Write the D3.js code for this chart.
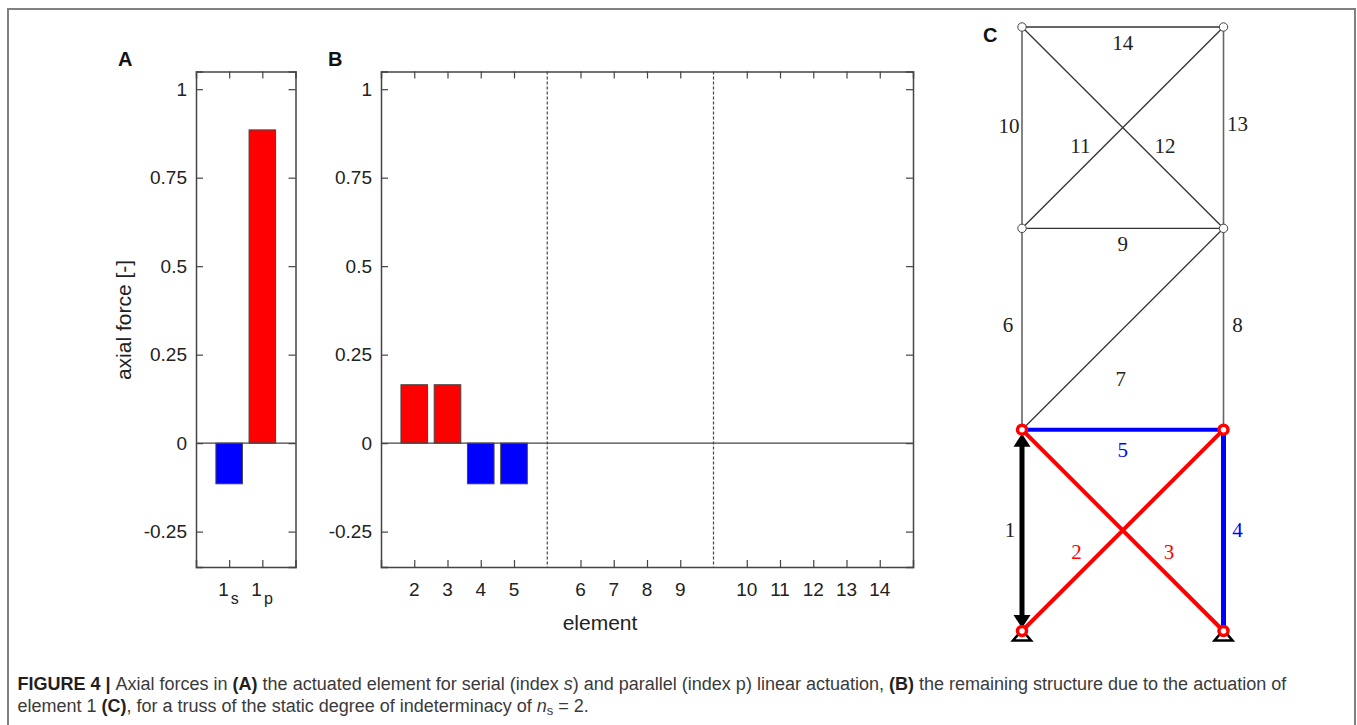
<!DOCTYPE html>
<html>
<head>
<meta charset="utf-8">
<style>
html, body { margin: 0; padding: 0; background: #fff; }
svg { display: block; }
text { font-family: "Liberation Sans", Arial, sans-serif; }
</style>
<script src="https://cdnjs.cloudflare.com/ajax/libs/d3/7.8.5/d3.min.js"></script>
</head>
<body>
<div id="chart-area"></div>
<script>
// values
var actuatedLabels = ['1s', '1p']
var actuatedValues = [-0.115, 0.885]
var actuatedSlots = [1, 2]
var elementLabels = [2, 3, 4, 5, 6, 7, 8, 9, 10, 11, 12, 13, 14]
var elementValues = [0.165, 0.165, -0.115, -0.115, 0, 0, 0, 0, 0, 0, 0, 0, 0]
var elementSlots = [1, 2, 3, 4, 6, 7, 8, 9, 11, 12, 13, 14, 15]
var separatorSlots = [5, 10]
var yTicks = [-0.25, 0, 0.25, 0.5, 0.75, 1]

// truss: [element, from column, from storey, to column, to storey]
var trussThin = [
	[7, 0, 1, 1, 2], [9, 0, 2, 1, 2], [11, 0, 2, 1, 3], [12, 0, 3, 1, 2], [14, 0, 3, 1, 3]
]
var trussThinUpright = [
	[6, 0, 1, 0, 2], [8, 1, 1, 1, 2], [10, 0, 2, 0, 3], [13, 1, 2, 1, 3]
]
var trussRed = [[2, 0, 0, 1, 1], [3, 0, 1, 1, 0]]
var trussBlueUpright = [[4, 1, 0, 1, 1]]
var trussBlueFlat = [[5, 0, 1, 1, 1]]
var trussJoints = [[0, 2], [1, 2], [0, 3], [1, 3]]
var trussActiveJoints = [[0, 0], [1, 0], [0, 1], [1, 1]]
// number label: [text, column, storey, colour group]
var trussLabels = [
	['1', -0.06, 0.5, 'k'], ['2', 0.27, 0.39, 'r'], ['3', 0.73, 0.39, 'r'], ['4', 1.07, 0.5, 'b'],
	['5', 0.5, 0.9, 'b'], ['6', -0.07, 1.52, 'k'], ['7', 0.49, 1.25, 'k'], ['8', 1.07, 1.52, 'k'],
	['9', 0.5, 1.92, 'k'], ['10', -0.065, 2.51, 'k'], ['11', 0.29, 2.41, 'k'], ['12', 0.71, 2.41, 'k'],
	['13', 1.07, 2.52, 'k'], ['14', 0.5, 2.92, 'k']
]

var W = 1357, H = 725
var RED = '#ff0000', BLUE = '#0000ff', INK = '#444444'

var svg = d3.select('#chart-area').append('svg')
	.attr('width', W)
	.attr('height', H)

// outer frame of the figure
svg.append('rect')
	.attr('x', 8).attr('y', 9)
	.attr('width', 1347).attr('height', 780)
	.attr('fill', 'none')
	.attr('stroke', '#808080')
	.attr('stroke-width', 2)

var yScale = d3.scaleLinear().domain([-0.35, 1.05]).range([567, 71.5])

function styleAxis(sel) {
	sel.select('.domain').attr('stroke', INK).attr('stroke-width', 1.5)
	sel.selectAll('.tick line').attr('stroke', INK).attr('stroke-width', 1.2)
	sel.selectAll('.tick text')
		.attr('fill', '#222')
		.attr('font-size', '19px')
		.attr('font-family', '"Liberation Sans", Arial, sans-serif')
}

// one bar panel: frame, inward ticks on all sides, bars, zero line
function drawPanel(x, values, slots) {
	var g = svg.append('g')
	var top = yScale.range()[1], bottom = yScale.range()[0]

	g.append('g')
		.attr('transform', 'translate(' + x.range()[0] + ',0)')
		.call(d3.axisLeft(yScale).tickValues(yTicks).tickSize(-7).tickPadding(9).tickFormat(String))
		.call(styleAxis)
	g.append('g')
		.attr('transform', 'translate(' + x.range()[1] + ',0)')
		.call(d3.axisRight(yScale).tickValues(yTicks).tickSize(-7).tickFormat(''))
		.call(styleAxis)
	g.append('g')
		.attr('transform', 'translate(0,' + bottom + ')')
		.call(d3.axisBottom(x).tickValues(slots).tickSize(-7).tickFormat(''))
		.call(styleAxis)
	g.append('g')
		.attr('transform', 'translate(0,' + top + ')')
		.call(d3.axisTop(x).tickValues(slots).tickSize(-7).tickFormat(''))
		.call(styleAxis)

	var barW = x(0.8) - x(0)
	g.selectAll('rect.bar')
		.data(values.map(function(v, i) { return {v: v, slot: slots[i]} }).filter(function(d) { return d.v !== 0 }))
		.enter()
		.append('rect')
		.attr('class', 'bar')
		.attr('x', function(d) { return x(d.slot) - barW / 2 })
		.attr('y', function(d) { return yScale(Math.max(d.v, 0)) })
		.attr('width', barW)
		.attr('height', function(d) { return Math.abs(yScale(d.v) - yScale(0)) })
		.attr('fill', function(d) { return d.v > 0 ? RED : BLUE })
		.attr('stroke', INK)
		.attr('stroke-width', 1)

	g.append('line')
		.attr('x1', x.range()[0]).attr('x2', x.range()[1])
		.attr('y1', yScale(0)).attr('y2', yScale(0))
		.attr('stroke', INK)
		.attr('stroke-width', 1.2)
	return g
}

// Panel A
var xA = d3.scaleLinear().domain([0, 3]).range([196, 295.5])
drawPanel(xA, actuatedValues, actuatedSlots)

actuatedLabels.forEach(function(d, i) {
	var t = svg.append('text')
		.attr('x', xA(actuatedSlots[i]) - 11)
		.attr('y', 596)
		.attr('font-size', '19px')
		.attr('fill', '#222')
		.text(d.charAt(0))
	t.append('tspan')
		.attr('dx', 2).attr('dy', 8)
		.attr('font-size', '16px')
		.text(d.charAt(1))
})

// Panel B
var xB = d3.scaleLinear().domain([0, 16]).range([381, 913])
var panelB = drawPanel(xB, elementValues, elementSlots)

panelB.selectAll('line.sep')
	.data(separatorSlots)
	.enter()
	.append('line')
	.attr('class', 'sep')
	.attr('x1', function(d) { return xB(d) })
	.attr('x2', function(d) { return xB(d) })
	.attr('y1', yScale.range()[1])
	.attr('y2', yScale.range()[0])
	.attr('stroke', INK)
	.attr('stroke-width', 1.2)
	.attr('stroke-dasharray', '3,2')

svg.selectAll('text.elLabel')
	.data(elementLabels)
	.enter()
	.append('text')
	.attr('class', 'elLabel')
	.attr('x', function(d, i) { return xB(elementSlots[i]) })
	.attr('y', 596)
	.attr('text-anchor', 'middle')
	.attr('font-size', '19px')
	.attr('fill', '#222')
	.text(function(d) { return d })

svg.append('text')
	.attr('x', 600).attr('y', 630)
	.attr('text-anchor', 'middle')
	.attr('font-size', '21px')
	.attr('fill', '#222')
	.text('element')

svg.append('text')
	.attr('transform', 'translate(131,320) rotate(-90)')
	.attr('text-anchor', 'middle')
	.attr('font-size', '21px')
	.attr('fill', '#222')
	.text('axial force [-]')

// panel letters
var panelLetters = [['A', 118, 66], ['B', 328, 66], ['C', 983, 42]]
svg.selectAll('text.letter')
	.data(panelLetters)
	.enter()
	.append('text')
	.attr('class', 'letter')
	.attr('x', function(d) { return d[1] })
	.attr('y', function(d) { return d[2] })
	.attr('font-size', '20px')
	.attr('font-weight', 'bold')
	.attr('fill', '#111')
	.text(function(d) { return d[0] })

// Panel C, the truss
var tx = d3.scaleLinear().domain([0, 1]).range([1022, 1223.5])
var ty = d3.scaleLinear().domain([0, 3]).range([631, 27])
var truss = svg.append('g')

function drawBars(list, colour, w) {
	truss.selectAll(null)
		.data(list)
		.enter()
		.append('line')
		.attr('x1', function(d) { return tx(d[1]) })
		.attr('y1', function(d) { return ty(d[2]) })
		.attr('x2', function(d) { return tx(d[3]) })
		.attr('y2', function(d) { return ty(d[4]) })
		.attr('stroke', colour)
		.attr('stroke-width', w)
}
drawBars(trussThin, '#333', 1.3)
drawBars(trussThinUpright, '#666', 1.6)

// element 1, double headed black actuator
truss.append('line')
	.attr('x1', tx(0)).attr('x2', tx(0))
	.attr('y1', ty(0) - 12).attr('y2', ty(1) + 12)
	.attr('stroke', '#000').attr('stroke-width', 5)
var tri = d3.line()
truss.append('path')
	.attr('d', tri([[tx(0) - 8.5, ty(1) + 17], [tx(0) + 8.5, ty(1) + 17], [tx(0), ty(1) + 4]]) + 'Z')
	.attr('fill', '#000')
truss.append('path')
	.attr('d', tri([[tx(0) - 8.5, ty(0) - 16], [tx(0) + 8.5, ty(0) - 16], [tx(0), ty(0) - 3]]) + 'Z')
	.attr('fill', '#000')

drawBars(trussRed, RED, 4)
drawBars(trussBlueUpright, BLUE, 5)
drawBars(trussBlueFlat, BLUE, 4)

// supports
trussActiveJoints.filter(function(d) { return d[1] === 0 }).forEach(function(d) {
	truss.append('path')
		.attr('d', tri([[tx(d[0]) - 9, ty(0) + 9.5], [tx(d[0]) + 9, ty(0) + 9.5], [tx(d[0]), ty(0) - 1]]) + 'Z')
		.attr('fill', '#fff')
		.attr('stroke', '#000')
		.attr('stroke-width', 2.5)
})

truss.selectAll('circle.joint')
	.data(trussJoints)
	.enter()
	.append('circle')
	.attr('class', 'joint')
	.attr('cx', function(d) { return tx(d[0]) })
	.attr('cy', function(d) { return ty(d[1]) })
	.attr('r', 4.2)
	.attr('fill', '#fff')
	.attr('stroke', '#444')
	.attr('stroke-width', 1)

truss.selectAll('circle.active')
	.data(trussActiveJoints)
	.enter()
	.append('circle')
	.attr('class', 'active')
	.attr('cx', function(d) { return tx(d[0]) })
	.attr('cy', function(d) { return ty(d[1]) })
	.attr('r', 4.5)
	.attr('fill', '#fff')
	.attr('stroke', RED)
	.attr('stroke-width', 3.5)

var labelColour = {k: '#222', r: RED, b: BLUE}
truss.selectAll('text.num')
	.data(trussLabels)
	.enter()
	.append('text')
	.attr('class', 'num')
	.attr('x', function(d) { return tx(d[1]) })
	.attr('y', function(d) { return ty(d[2]) })
	.attr('text-anchor', 'middle')
	.attr('dominant-baseline', 'central')
	.attr('font-size', '21px')
	.style('font-family', '"Liberation Serif", "Times New Roman", serif')
	.attr('fill', function(d) { return labelColour[d[3]] })
	.text(function(d) { return d[0] })

// caption
var capLine1 = [
	['FIGURE 4 | ', 'b'], ['Axial forces in ', ''], ['(A)', 'b'],
	[' the actuated element for serial (index ', ''], ['s', 'i'],
	[') and parallel (index p) linear actuation, ', ''], ['(B)', 'b'],
	[' the remaining structure due to the actuation of', '']
]
var capLine2 = [
	['element 1 ', ''], ['(C)', 'b'], [', for a truss of the static degree of indeterminacy of ', ''],
	['n', 'i'], ['s', 'sub'], [' = 2.', 'back']
]
function caption(parts, y) {
	var t = svg.append('text')
		.attr('x', 17.5).attr('y', y)
		.attr('font-size', '18px')
		.attr('fill', '#3a3a3a')
		.attr('xml:space', 'preserve')
	parts.forEach(function(p) {
		var s = t.append('tspan').text(p[0])
		if (p[1] === 'b') s.attr('font-weight', 'bold').attr('fill', '#231f20')
		if (p[1] === 'i') s.attr('font-style', 'italic')
		if (p[1] === 'sub') s.attr('font-size', '13px').attr('dy', 3)
		if (p[1] === 'back') s.attr('dy', -3)
	})
	return t
}
caption(capLine1, 690)
caption(capLine2, 712)
</script>
</body>
</html>
